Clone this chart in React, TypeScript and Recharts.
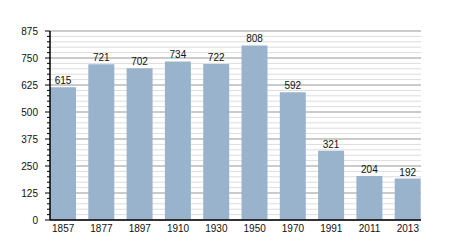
import { BarChart, Bar, XAxis, YAxis, CartesianGrid, LabelList } from 'recharts';

// census years and population
const years = ['1857', '1877', '1897', '1910', '1930', '1950', '1970', '1991', '2011', '2013'];
const population = [615, 721, 702, 734, 722, 808, 592, 321, 204, 192];

const majorTicks = [0, 125, 250, 375, 500, 625, 750, 875];
const minorTicks = [0, 25, 50, 75, 100, 125, 150, 175, 200, 225, 250, 275, 300, 325, 350, 375, 400, 425, 450, 475, 500, 525, 550, 575, 600, 625, 650, 675, 700, 725, 750, 775, 800, 825, 850, 875];

const data = years.map((y, i) => ({ year: y, pop: population[i] }));

const font = { fontFamily: 'Liberation Sans, Arial, sans-serif', fontSize: 10, fill: '#111' };

// every 25 gets a short tick, every 125 a longer one with a label
const YTick = (props: any) => {
    const { x, y, payload } = props;
    const major = payload.value % 125 === 0;
    const ax = x + 5;
    return (
        <g>
            <line x1={ax - (major ? 5 : 3)} x2={ax} y1={y} y2={y} stroke="#000" />
            {major && (
                <text x={ax - 12} y={y} dy="0.355em" textAnchor="end" {...font}>
                    {payload.value}
                </text>
            )}
        </g>
    );
};

export default function App() {
    return (
        <div style={{ position: 'absolute', left: 0, top: 0, width: 450, height: 250, background: '#fff' }}>
            <BarChart
                width={450}
                height={250}
                data={data}
                margin={{ top: 31, right: 29, bottom: 10, left: 0 }}
                barCategoryGap={6}
            >
                <CartesianGrid vertical={false} stroke="#dddddd" horizontalValues={minorTicks} />
                <CartesianGrid vertical={false} stroke="#a8a8a8" horizontalValues={majorTicks} />
                <XAxis
                    dataKey="year"
                    tickLine={false}
                    tickSize={5}
                    tickMargin={0}
                    height={20}
                    padding={{ left: -6, right: -6 }}
                    axisLine={{ stroke: '#000', strokeWidth: 1.5 }}
                    tick={font}
                    interval={0}
                />
                <YAxis
                    width={50}
                    domain={[0, 875]}
                    ticks={minorTicks}
                    interval={0}
                    tick={<YTick />}
                    tickLine={false}
                    tickSize={5}
                    tickMargin={0}
                    axisLine={{ stroke: '#000', strokeWidth: 1.5 }}
                />
                <Bar dataKey="pop" fill="#9ab3cd" isAnimationActive={false}>
                    <LabelList dataKey="pop" position="top" offset={3} style={font} />
                </Bar>
            </BarChart>
        </div>
    );
}
